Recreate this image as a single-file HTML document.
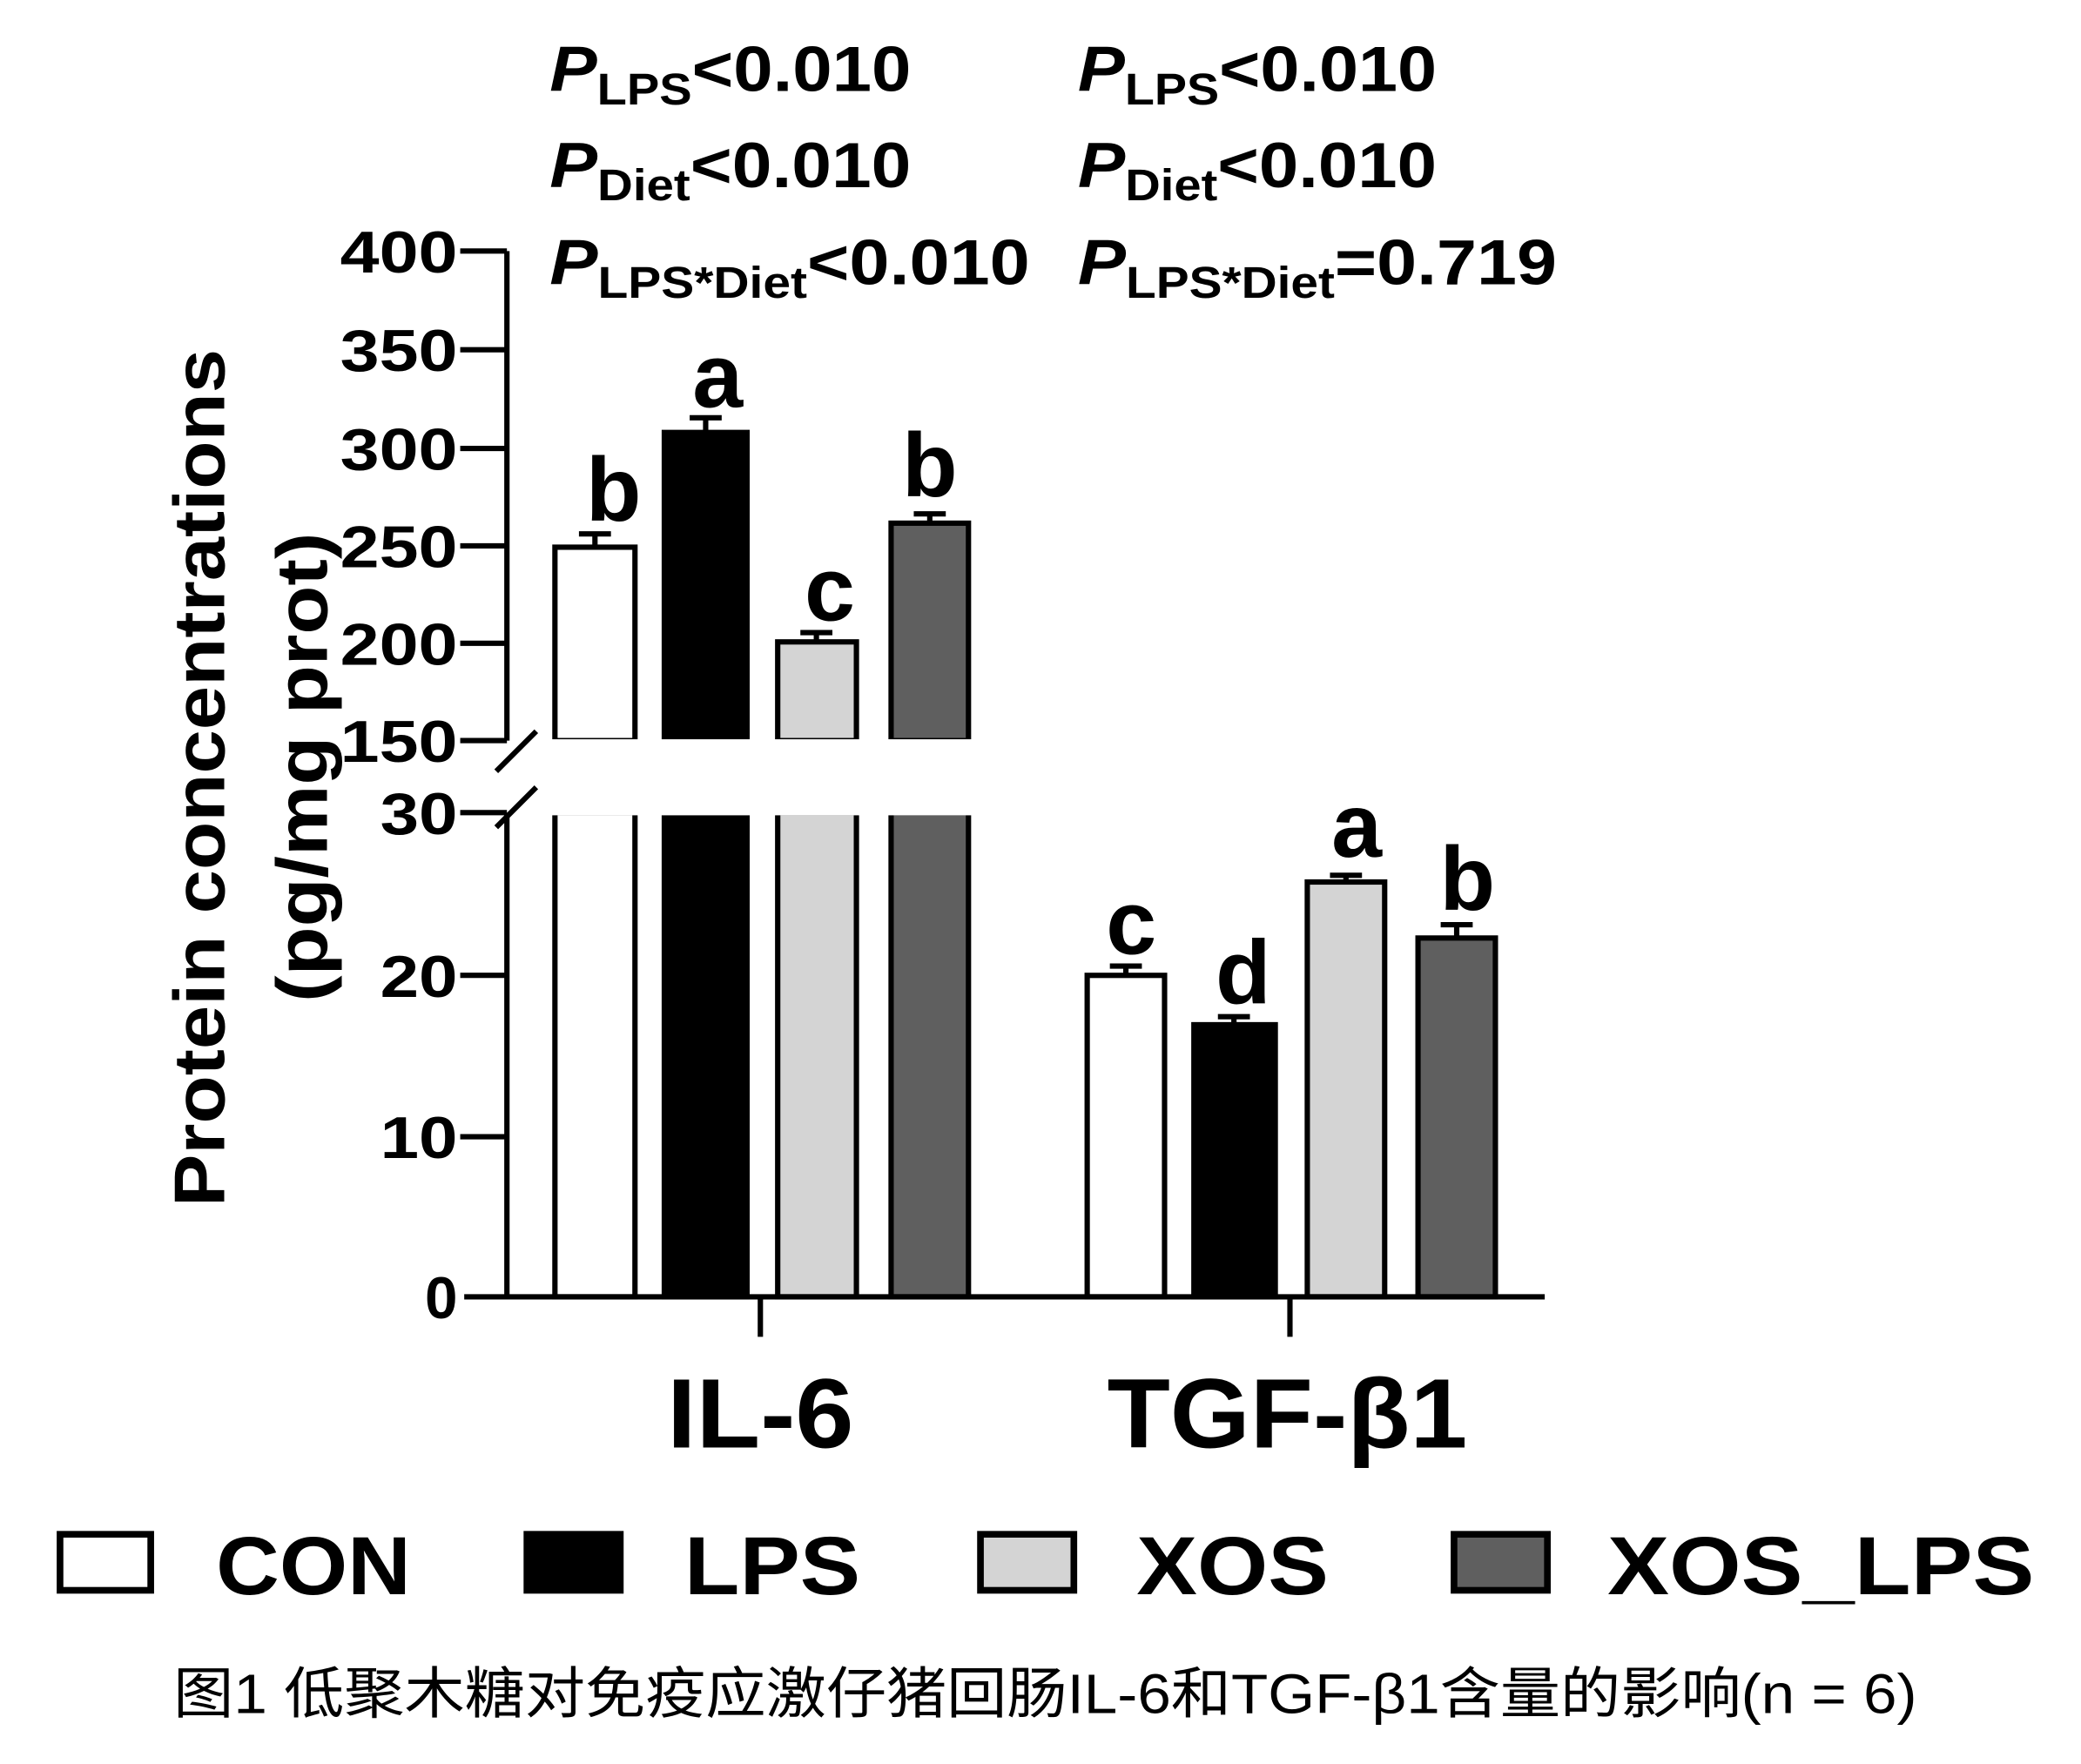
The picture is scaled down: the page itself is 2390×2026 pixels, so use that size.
<!DOCTYPE html>
<html><head><meta charset="utf-8"><style>
html,body{margin:0;padding:0;background:#fff;}
svg{display:block;}
text{font-family:"Liberation Sans",Arial,sans-serif;font-weight:bold;fill:#000;}
.cap{font-family:"Liberation Sans","Noto Sans CJK SC",sans-serif;font-weight:normal;}
</style></head><body>
<svg width="2390" height="2026" viewBox="0 0 1560 1322" xmlns="http://www.w3.org/2000/svg">
<rect width="1560" height="1322" fill="#fff"/>
<!-- P values -->
<g font-size="48">
<text x="412" y="68" textLength="271" lengthAdjust="spacingAndGlyphs"><tspan font-style="italic">P</tspan><tspan font-size="33" dy="10">LPS</tspan><tspan dy="-10">&lt;0.010</tspan></text>
<text x="412" y="140" textLength="271" lengthAdjust="spacingAndGlyphs"><tspan font-style="italic">P</tspan><tspan font-size="33" dy="10">Diet</tspan><tspan dy="-10">&lt;0.010</tspan></text>
<text x="412" y="213" textLength="360" lengthAdjust="spacingAndGlyphs"><tspan font-style="italic">P</tspan><tspan font-size="33" dy="10">LPS*Diet</tspan><tspan dy="-10">&lt;0.010</tspan></text>
<text x="808" y="68" textLength="269" lengthAdjust="spacingAndGlyphs"><tspan font-style="italic">P</tspan><tspan font-size="33" dy="10">LPS</tspan><tspan dy="-10">&lt;0.010</tspan></text>
<text x="808" y="140" textLength="269" lengthAdjust="spacingAndGlyphs"><tspan font-style="italic">P</tspan><tspan font-size="33" dy="10">Diet</tspan><tspan dy="-10">&lt;0.010</tspan></text>
<text x="808" y="213" textLength="359" lengthAdjust="spacingAndGlyphs"><tspan font-style="italic">P</tspan><tspan font-size="33" dy="10">LPS*Diet</tspan><tspan dy="-10">=0.719</tspan></text>
</g>
<!-- bars -->
<g stroke="#000" stroke-width="4">
<rect x="416" y="410" width="60" height="145" fill="#fff"/>
<rect x="498" y="324" width="62" height="231" fill="#000"/>
<rect x="583" y="481" width="59" height="74" fill="#d4d4d4"/>
<rect x="668" y="392" width="58" height="163" fill="#5f5f5f"/>
<rect x="416" y="609" width="60" height="363" fill="#fff"/>
<rect x="498" y="609" width="62" height="363" fill="#000"/>
<rect x="583" y="609" width="59" height="363" fill="#d4d4d4"/>
<rect x="668" y="609" width="58" height="363" fill="#5f5f5f"/>
<rect x="815" y="731" width="58" height="241" fill="#fff"/>
<rect x="895" y="768" width="61" height="204" fill="#000"/>
<rect x="980" y="661" width="58" height="311" fill="#d4d4d4"/>
<rect x="1063" y="703" width="58" height="269" fill="#5f5f5f"/>
</g>
<!-- error bars -->
<g stroke="#000" stroke-width="4" fill="none">
<path d="M446 410V400M434 400H458"/>
<path d="M529 324V313M517 313H541"/>
<path d="M612 481V474M600 474H624"/>
<path d="M697 392V385M685 385H709"/>
<path d="M844 731V724M832 724H856"/>
<path d="M925 768V762M913 762H937"/>
<path d="M1009 661V656M997 656H1021"/>
<path d="M1092 703V693M1080 693H1104"/>
</g>
<!-- gap white -->
<rect x="385" y="554" width="360" height="57" fill="#fff"/>
<!-- axes -->
<g stroke="#000" stroke-width="4" fill="none">
<path d="M380 188V555M380 609V974"/>
<path d="M348 972H1158"/>
<path d="M570 972V1002M967 972V1002"/>
<path d="M345 188H380M345 262H380M345 336H380M345 409H380M345 482H380M345 555H380"/>
<path d="M345 609H380M345 731H380M345 852H380"/>
<path d="M372 578L402 548M372 620L402 590"/>
</g>
<!-- tick labels -->
<g font-size="44" text-anchor="end">
<text x="343" y="204" textLength="88" lengthAdjust="spacingAndGlyphs">400</text>
<text x="343" y="278" textLength="88" lengthAdjust="spacingAndGlyphs">350</text>
<text x="343" y="352" textLength="88" lengthAdjust="spacingAndGlyphs">300</text>
<text x="343" y="425" textLength="88" lengthAdjust="spacingAndGlyphs">250</text>
<text x="343" y="498" textLength="88" lengthAdjust="spacingAndGlyphs">200</text>
<text x="343" y="571" textLength="88" lengthAdjust="spacingAndGlyphs">150</text>
<text x="343" y="625" textLength="58" lengthAdjust="spacingAndGlyphs">30</text>
<text x="343" y="747" textLength="58" lengthAdjust="spacingAndGlyphs">20</text>
<text x="343" y="868" textLength="58" lengthAdjust="spacingAndGlyphs">10</text>
<text x="343" y="988">0</text>
</g>
<!-- y title -->
<g font-size="54" text-anchor="middle">
<text transform="translate(168,583) rotate(-90)" textLength="643" lengthAdjust="spacingAndGlyphs">Protein concentrations</text>
<text transform="translate(245,575) rotate(-90)" textLength="352" lengthAdjust="spacingAndGlyphs">(pg/mg prot)</text>
</g>
<!-- letters -->
<g font-size="68" text-anchor="middle">
<text x="460" y="390">b</text><text x="538" y="305">a</text><text x="622" y="465">c</text><text x="697" y="372">b</text>
<text x="848" y="715">c</text><text x="932" y="752">d</text><text x="1017" y="642">a</text><text x="1100" y="682">b</text>
</g>
<!-- x labels -->
<g font-size="74" text-anchor="middle">
<text x="570" y="1085" textLength="140" lengthAdjust="spacingAndGlyphs">IL-6</text>
<text x="965" y="1085" textLength="270" lengthAdjust="spacingAndGlyphs">TGF-β1</text>
</g>
<!-- legend -->
<g stroke="#000" stroke-width="5">
<rect x="45" y="1150" width="68" height="42" fill="#fff"/>
<rect x="395" y="1150" width="70" height="42" fill="#000"/>
<rect x="735" y="1150" width="70" height="42" fill="#d4d4d4"/>
<rect x="1090" y="1150" width="70" height="42" fill="#5f5f5f"/>
</g>
<g font-size="62">
<text x="162" y="1195" textLength="146" lengthAdjust="spacingAndGlyphs">CON</text>
<text x="513" y="1195" textLength="132" lengthAdjust="spacingAndGlyphs">LPS</text>
<text x="852" y="1195" textLength="144" lengthAdjust="spacingAndGlyphs">XOS</text>
<text x="1205" y="1195" textLength="320" lengthAdjust="spacingAndGlyphs">XOS_LPS</text>
</g>
<text class="cap" x="130" y="1284" font-size="42" textLength="1307" lengthAdjust="spacingAndGlyphs">图1 低聚木糖对免疫应激仔猪回肠IL-6和TGF-β1含量的影响(n = 6)</text>
</svg>
</body></html>
